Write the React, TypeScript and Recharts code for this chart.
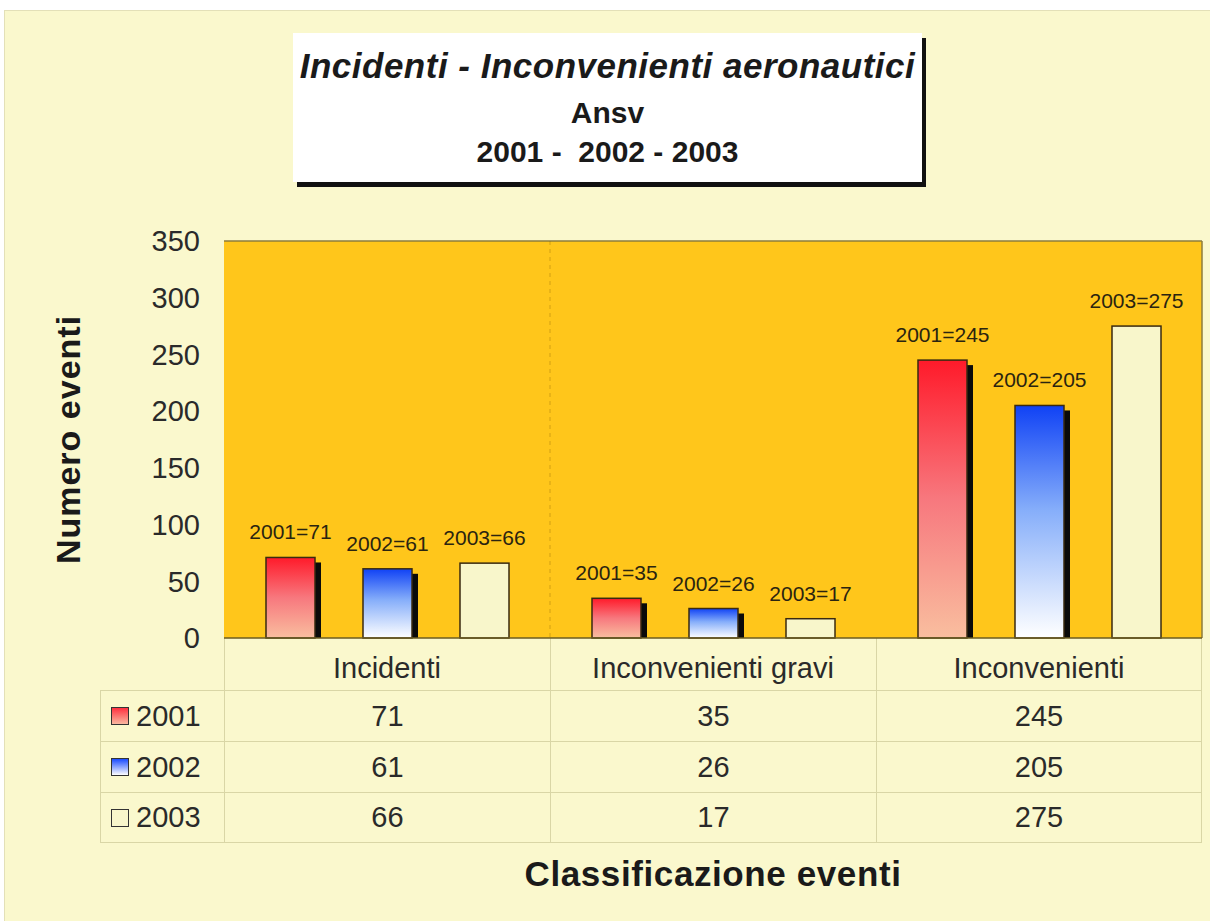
import React from "react";
import {
  BarChart,
  Bar,
  XAxis,
  YAxis,
  CartesianGrid,
  LabelList,
} from "recharts";

const categories = ["Incidenti", "Inconvenienti gravi", "Inconvenienti"];
const years = ["2001", "2002", "2003"];
const values2001 = [71, 35, 245];
const values2002 = [61, 26, 205];
const values2003 = [66, 17, 275];
const yTicks = [0, 50, 100, 150, 200, 250, 300, 350];

const seriesValues = [values2001, values2002, values2003];
const data = categories.map((name, i) => ({
  name,
  y2001: values2001[i],
  y2002: values2002[i],
  y2003: values2003[i],
}));

const FONT = "'Liberation Sans', Arial, sans-serif";
const PANEL = "#FAF8CD";
const ORANGE = "#FFC61B";
const GRID = "#D9D6A6";
const fills = ["url(#gRed)", "url(#gBlue)", "#F8F6CB"];
const swatch = [
  "linear-gradient(#FF3040, #F9B8A0)",
  "linear-gradient(#1A4BFF, #FFFFFF)",
  "#F8F6CB",
];

function barShape(shadow: boolean) {
  return (props: any) => {
    const { x, y, width, height, fill } = props;
    if (height == null || height <= 0) return <g />;
    return (
      <g>
        {shadow && (
          <rect x={x + 6} y={y + 5} width={width} height={Math.max(height - 5, 0)} fill="#0a0a0a" />
        )}
        <rect x={x} y={y} width={width} height={height} fill={fill} stroke="#3a2a10" strokeWidth={1.5} />
      </g>
    );
  };
}

const CategoryTick = (props: any) => {
  const { x, y, payload } = props;
  return (
    <text x={x} y={y + 28} textAnchor="middle" dominantBaseline="central" fontFamily={FONT} fontSize={29} fill="#2a2a2a">
      {payload.value}
    </text>
  );
};

export default function App() {
  const colW = (1202 - 224) / 3;
  return (
    <div style={{ position: "absolute", left: 0, top: 0, width: 1210, height: 922, background: "#fff", fontFamily: FONT }}>
      <div
        style={{
          position: "absolute",
          left: 4,
          top: 10,
          width: 1206,
          height: 910,
          background: PANEL,
          borderLeft: "1px solid #E3E0B8",
          borderTop: "1px solid #E3E0B8",
        }}
      />

      {/* title box */}
      <div
        style={{
          position: "absolute",
          left: 293,
          top: 33,
          width: 629,
          height: 149,
          background: "#fff",
          boxShadow: "4px 5px 0 #111",
          textAlign: "center",
          color: "#1a1a1a",
        }}
      >
        <div style={{ fontSize: 35, fontWeight: "bold", fontStyle: "italic", marginTop: 14, lineHeight: "38px", letterSpacing: 0.5 }}>
          Incidenti - Inconvenienti aeronautici
        </div>
        <div style={{ fontSize: 30, fontWeight: "bold", lineHeight: "40px", marginTop: 8 }}>Ansv</div>
        <div style={{ fontSize: 30, fontWeight: "bold", lineHeight: "38px", whiteSpace: "pre" }}>2001 -  2002 - 2003</div>
      </div>

      {/* data table */}
      <div style={{ position: "absolute", left: 100, top: 638 }}>
        <div style={{ display: "flex", height: 52 }}>
          <div style={{ width: 124 }} />
          {categories.map((c, i) => (
            <div
              key={c}
              style={{
                width: colW,
                boxSizing: "border-box",
                borderLeft: `1px solid ${GRID}`,
                borderRight: i === 2 ? `1px solid ${GRID}` : "none",
              }}
            />
          ))}
        </div>
        {years.map((yr, r) => (
          <div key={yr} style={{ display: "flex", height: 51, boxSizing: "border-box", borderTop: `1px solid ${GRID}`, borderBottom: r === 2 ? `1px solid ${GRID}` : "none" }}>
            <div
              style={{
                width: 124,
                boxSizing: "border-box",
                borderLeft: `1px solid ${GRID}`,
                display: "flex",
                alignItems: "center",
                fontSize: 29,
                color: "#2a2a2a",
              }}
            >
              <span
                style={{
                  display: "inline-block",
                  width: 16,
                  height: 16,
                  marginLeft: 10,
                  marginRight: 7,
                  background: swatch[r],
                  border: "1.5px solid #333",
                }}
              />
              {yr}
            </div>
            {seriesValues[r].map((v, i) => (
              <div
                key={i}
                style={{
                  width: colW,
                  boxSizing: "border-box",
                  borderLeft: `1px solid ${GRID}`,
                  borderRight: i === 2 ? `1px solid ${GRID}` : "none",
                  display: "flex",
                  alignItems: "center",
                  justifyContent: "center",
                  fontSize: 29,
                  color: "#2a2a2a",
                }}
              >
                {v}
              </div>
            ))}
          </div>
        ))}
      </div>

      <div style={{ position: "absolute", left: 0, top: 0 }}>
        <BarChart
          width={1210}
          height={922}
          data={data}
          margin={{ top: 241, right: 8, bottom: 34, left: 34 }}
          barSize={49}
          barGap={48}
        >
          <defs>
            <linearGradient id="gRed" x1="0" y1="0" x2="0" y2="1">
              <stop offset="0%" stopColor="#FF1A2A" />
              <stop offset="50%" stopColor="#F7787E" />
              <stop offset="100%" stopColor="#F9BE9F" />
            </linearGradient>
            <linearGradient id="gBlue" x1="0" y1="0" x2="0" y2="1">
              <stop offset="0%" stopColor="#1042F5" />
              <stop offset="45%" stopColor="#86AEFA" />
              <stop offset="100%" stopColor="#FFFFFF" />
            </linearGradient>
          </defs>
          <CartesianGrid
            fill={ORANGE}
            stroke="#8C7D3C"
            strokeWidth={1.5}
            horizontalCoordinatesGenerator={({ offset }: any) => [offset.top]}
            verticalCoordinatesGenerator={({ offset }: any) => [offset.left + offset.width]}
          />
          <CartesianGrid
            horizontal={false}
            stroke="rgba(130,95,0,0.35)"
            strokeDasharray="4 4"
            verticalCoordinatesGenerator={({ offset }: any) => [offset.left + offset.width / 3]}
          />
          <XAxis
            dataKey="name"
            height={250}
            tickLine={false}
            tickSize={0}
            axisLine={{ stroke: "#6B5C22", strokeWidth: 1.5 }}
            tick={<CategoryTick />}
            interval={0}
            label={{
              content: (p: any) => {
                const vb = p.viewBox;
                return (
                  <text
                    x={vb.x + vb.width / 2}
                    y={vb.y + 235}
                    textAnchor="middle"
                    dominantBaseline="central"
                    fontFamily={FONT}
                    fontWeight="bold"
                    fontSize={35}
                    letterSpacing={0.6}
                    fill="#1a1a1a"
                  >
                    Classificazione eventi
                  </text>
                );
              },
            }}
          />
          <YAxis
            width={190}
            domain={[0, 350]}
            ticks={yTicks}
            tickLine={false}
            tickSize={0}
            tickMargin={24}
            axisLine={false}
            tick={{ fontFamily: FONT, fontSize: 29, fill: "#2a2a2a" }}
            label={{
              content: (p: any) => {
                const vb = p.viewBox;
                const cx = vb.x + 34;
                const cy = vb.y + vb.height / 2;
                return (
                  <text
                    x={cx}
                    y={cy}
                    transform={`rotate(-90 ${cx} ${cy})`}
                    textAnchor="middle"
                    dominantBaseline="central"
                    fontFamily={FONT}
                    fontWeight="bold"
                    fontSize={34}
                    letterSpacing={1}
                    fill="#1a1a1a"
                  >
                    Numero eventi
                  </text>
                );
              },
            }}
          />
          {years.map((yr, i) => (
            <Bar key={yr} dataKey={`y${yr}`} fill={fills[i]} isAnimationActive={false} shape={barShape(i < 2)}>
              <LabelList
                dataKey={`y${yr}`}
                position="top"
                offset={18}
                formatter={(v: any) => `${yr}=${v}`}
                fontFamily={FONT}
                fontSize={21}
                fill="#2a2410"
              />
            </Bar>
          ))}
        </BarChart>
      </div>
    </div>
  );
}
